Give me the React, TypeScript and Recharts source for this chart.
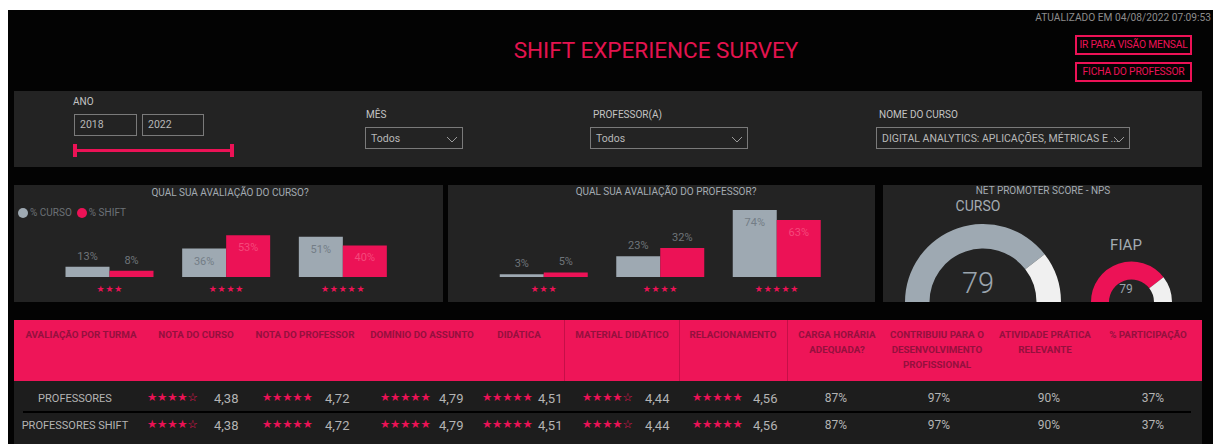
import React from 'react';
import { BarChart, Bar, XAxis, YAxis, LabelList, Legend, PieChart, Pie, Cell } from 'recharts';

const PINK = '#ec1256';
const GREY = '#9ea9b2';
const GAUGE_WHITE = '#f0f0f0';
const PANEL = '#232323';
const BODY = '#1d1d1d';
const LABEL_GREY = '#6f757a';
const FONT = 'Roboto, "Noto Sans", sans-serif';
const STAR_FONT = '"DejaVu Sans", sans-serif';

// ---- data ----
const ratingCategories = ['★★★', '★★★★', '★★★★★'];
const courseCurso = [13, 36, 51];
const courseShift = [8, 53, 40];
const professorCurso = [3, 23, 74];
const professorShift = [5, 32, 63];
const seriesNames = ['% CURSO', '% SHIFT'];
const npsNames = ['CURSO', 'FIAP'];
const npsValues = [79, 79];
const npsMax = 100;

const rowNames = ['PROFESSORES', 'PROFESSORES SHIFT'];
const notaCurso = [4.38, 4.38];
const notaProfessor = [4.72, 4.72];
const dominio = [4.79, 4.79];
const didatica = [4.51, 4.51];
const material = [4.44, 4.44];
const relacionamento = [4.56, 4.56];
const cargaHoraria = [87, 87];
const contribuiu = [97, 97];
const atividade = [90, 90];
const participacao = [37, 37];

const headerLabels = [
  ['AVALIAÇÃO POR TURMA'],
  ['NOTA DO CURSO'],
  ['NOTA DO PROFESSOR'],
  ['DOMÍNIO DO ASSUNTO'],
  ['DIDÁTICA'],
  ['MATERIAL DIDÁTICO'],
  ['RELACIONAMENTO'],
  ['CARGA HORÁRIA', 'ADEQUADA?'],
  ['CONTRIBUIU PARA O', 'DESENVOLVIMENTO', 'PROFISSIONAL'],
  ['ATIVIDADE PRÁTICA', 'RELEVANTE'],
  ['% PARTICIPAÇÃO'],
];

// ---- layout (not data) ----
const headerCenters = [81, 196, 305, 422, 519, 622, 733, 837, 937, 1045, 1148];
const starCols = [
  { values: notaCurso, starX: 147, valX: 214 },
  { values: notaProfessor, starX: 262, valX: 325 },
  { values: dominio, starX: 380, valX: 439 },
  { values: didatica, starX: 482, valX: 538 },
  { values: material, starX: 582, valX: 645 },
  { values: relacionamento, starX: 692, valX: 753 },
];
const pctCols = [
  { values: cargaHoraria, cx: 836 },
  { values: contribuiu, cx: 939 },
  { values: atividade, cx: 1049 },
  { values: participacao, cx: 1153 },
];
const rowY = [398, 425];

const courseData = ratingCategories.map((c, i) => ({ name: c, curso: courseCurso[i], shift: courseShift[i] }));
const professorData = ratingCategories.map((c, i) => ({ name: c, curso: professorCurso[i], shift: professorShift[i] }));

type TProps = {
  x: number; y: number; children: React.ReactNode; size?: number; color?: string;
  anchor?: 'left' | 'center' | 'right'; weight?: number; family?: string; style?: React.CSSProperties;
};
const T = ({ x, y, children, size = 11, color = '#bdbdbd', anchor = 'left', weight = 400, family = FONT, style }: TProps) => (
  <div
    style={{
      position: 'absolute', left: x, top: y, fontSize: size, color, fontWeight: weight, fontFamily: family,
      whiteSpace: 'nowrap', lineHeight: 1,
      transform: anchor === 'center' ? 'translate(-50%, -50%)' : anchor === 'right' ? 'translate(-100%, -50%)' : 'translate(0, -50%)',
      ...style,
    }}
  >
    {children}
  </div>
);

const Box = ({ x, y, w, h, bg, border, children }: any) => (
  <div style={{ position: 'absolute', left: x, top: y, width: w, height: h, background: bg, border, boxSizing: 'border-box' }}>
    {children}
  </div>
);

const Chevron = ({ x, y }: { x: number; y: number }) => (
  <svg style={{ position: 'absolute', left: x, top: y }} width={12} height={7}>
    <polyline points="1,1 6,6 11,1" fill="none" stroke="#9a9a9a" strokeWidth={1} />
  </svg>
);

const Dropdown = ({ x, w, text }: { x: number; w: number; text: string }) => (
  <>
    <Box x={x} y={127} w={w} h={22} border="1px solid #7a7a7a" />
    <T x={x + 6} y={139} size={10.5} color="#b8b8b8">{text}</T>
    <Chevron x={x + w - 17} y={136} />
  </>
);

const StarTick = (props: any) => {
  const { x, y, payload } = props;
  return (
    <text x={x} y={Number(y) + 15} textAnchor="middle" fill={PINK} fontSize={9} fontFamily={STAR_FONT} letterSpacing={0.8}>
      {payload.value}
    </text>
  );
};

const makeLabel = (insideColor: string) => (props: any) => {
  const { x, y, width, value } = props;
  const inside = Number(value) >= 35;
  return (
    <text
      x={Number(x) + Number(width) / 2}
      y={inside ? Number(y) + 16 : Number(y) - 7}
      textAnchor="middle"
      fill={inside ? insideColor : LABEL_GREY}
      fontSize={11}
      fontFamily={FONT}
    >
      {value}%
    </text>
  );
};

const LegendContent = () => (
  <div style={{ display: 'flex', alignItems: 'center', fontFamily: FONT, fontSize: 10, color: '#6c7176', lineHeight: 1 }}>
    <span style={{ width: 10, height: 10, borderRadius: 5, background: GREY, display: 'inline-block', marginRight: 2 }} />
    <span style={{ marginRight: 5 }}>{seriesNames[0]}</span>
    <span style={{ width: 10, height: 10, borderRadius: 5, background: PINK, display: 'inline-block', marginRight: 2 }} />
    <span>{seriesNames[1]}</span>
  </div>
);

const RatingChart = ({ data, max, left, width, marginLeft, marginRight, legend }: any) => (
  <div style={{ position: 'absolute', left, top: 185 }}>
    <BarChart
      width={width}
      height={117}
      data={data}
      margin={{ top: 25, right: marginRight, bottom: 5, left: marginLeft }}
      barGap={0}
      barSize={44}
    >
      <XAxis dataKey="name" axisLine={false} tickLine={false} tickSize={0} tickMargin={0} height={20} interval={0} tick={<StarTick />} />
      <YAxis hide domain={[0, max]} />
      {legend && (
        <Legend
          layout="horizontal"
          verticalAlign="middle"
          align="center"
          wrapperStyle={{ position: 'absolute', top: 23, left: 4, width: 'auto' }}
          content={<LegendContent />}
        />
      )}
      <Bar dataKey="curso" fill={GREY} isAnimationActive={false}>
        <LabelList dataKey="curso" content={makeLabel('#737d86')} />
      </Bar>
      <Bar dataKey="shift" fill={PINK} isAnimationActive={false}>
        <LabelList dataKey="shift" content={makeLabel('#f5487b')} />
      </Bar>
    </BarChart>
  </div>
);

const gaugeData = (v: number) => [{ v }, { v: npsMax - v }];

export default function App() {
  return (
    <div style={{ position: 'fixed', left: 0, top: 0, width: 1213, height: 444, background: '#fff', overflow: 'hidden', fontFamily: FONT }}>
      <Box x={8} y={10} w={1205} h={434} bg="#030303" />

      {/* Header */}
      <T x={656} y={50} size={22.5} color="#e3134f" anchor="center">SHIFT EXPERIENCE SURVEY</T>
      <T x={1211} y={18} size={10.2} color="#8c8c8c" anchor="right">ATUALIZADO EM 04/08/2022 07:09:53</T>
      <Box x={1075} y={35} w={117} h={20} border={`2px solid ${PINK}`} />
      <T x={1133.5} y={45} size={10.3} color={PINK} anchor="center" style={{ letterSpacing: -0.2 }}>IR PARA VISÃO MENSAL</T>
      <Box x={1075} y={62} w={117} h={20} border={`2px solid ${PINK}`} />
      <T x={1133.5} y={72} size={10.3} color={PINK} anchor="center" style={{ letterSpacing: -0.2 }}>FICHA DO PROFESSOR</T>

      {/* Filters */}
      <Box x={14} y={91} w={1188} h={76} bg={PANEL} />
      <T x={73} y={102} size={10} color="#c4c4c4">ANO</T>
      <Box x={74} y={114} w={63} h={22} border="1px solid #7a7a7a" />
      <T x={80} y={125} size={10.5} color="#b8b8b8">2018</T>
      <Box x={142} y={114} w={62} h={22} border="1px solid #7a7a7a" />
      <T x={148} y={125} size={10.5} color="#b8b8b8">2022</T>
      <Box x={75} y={149} w={157} h={3} bg={PINK} />
      <Box x={73} y={144} w={4} h={13} bg={PINK} />
      <Box x={230} y={144} w={4} h={13} bg={PINK} />

      <T x={366} y={115} size={10} color="#c4c4c4">MÊS</T>
      <Dropdown x={365} w={98} text="Todos" />
      <T x={593} y={115} size={10} color="#c4c4c4">PROFESSOR(A)</T>
      <Dropdown x={590} w={158} text="Todos" />
      <T x={879} y={115} size={10} color="#c4c4c4">NOME DO CURSO</T>
      <Dropdown x={876} w={254} text="DIGITAL ANALYTICS: APLICAÇÕES, MÉTRICAS E ..." />

      {/* Panels */}
      <Box x={14} y={185} w={429} h={117} bg={PANEL} />
      <Box x={448} y={185} w={427} h={117} bg={PANEL} />
      <Box x={883} y={185} w={319} h={117} bg={PANEL} />

      <RatingChart data={courseData} max={85} left={14} width={429} marginLeft={37.5} marginRight={41.5} legend />
      <RatingChart data={professorData} max={74} left={448} width={427} marginLeft={37.75} marginRight={39.75} />
      <T x={230} y={193} size={10} color="#a3abb2" anchor="center">QUAL SUA AVALIAÇÃO DO CURSO?</T>
      <T x={666} y={192} size={10} color="#a3abb2" anchor="center">QUAL SUA AVALIAÇÃO DO PROFESSOR?</T>

      {/* NPS */}
      <div style={{ position: 'absolute', left: 883, top: 185 }}>
        <PieChart width={319} height={117}>
          <Pie data={gaugeData(npsValues[0])} dataKey="v" cx={95} cy={112} startAngle={180} endAngle={0}
            innerRadius={53.5} outerRadius={78} stroke="none" isAnimationActive={false}>
            <Cell fill={GREY} />
            <Cell fill={GAUGE_WHITE} />
          </Pie>
          <Pie data={gaugeData(npsValues[1])} dataKey="v" cx={243.5} cy={112} startAngle={180} endAngle={0}
            innerRadius={22.5} outerRadius={40.5} stroke="none" isAnimationActive={false}>
            <Cell fill={PINK} />
            <Cell fill={GAUGE_WHITE} />
          </Pie>
        </PieChart>
      </div>
      <T x={1043} y={191} size={10} color="#a3abb2" anchor="center">NET PROMOTER SCORE - NPS</T>
      <T x={978} y={206} size={14} color="#a3abb2" anchor="center">{npsNames[0]}</T>
      <T x={978} y={283} size={29} color="#9aa4ad" anchor="center" weight={300}>{npsValues[0]}</T>
      <T x={1126} y={245} size={15} color="#a3abb2" anchor="center">{npsNames[1]}</T>
      <T x={1126} y={289} size={12} color="#9aa4ad" anchor="center">{npsValues[1]}</T>

      {/* Table */}
      <Box x={14} y={320} w={1188} h={61} bg="#ee1558" />
      {[564, 679, 787].map((x) => (
        <Box key={x} x={x} y={320} w={1} h={61} bg="#c50f48" />
      ))}
      {headerLabels.map((lines, i) => (
        <div key={i} style={{
          position: 'absolute', left: headerCenters[i], top: 327, transform: 'translateX(-50%)',
          textAlign: 'center', fontSize: 9.8, fontWeight: 700, color: '#95103e', lineHeight: '15px', whiteSpace: 'nowrap',
        }}>
          {lines.map((l, j) => <div key={j}>{l}</div>)}
        </div>
      ))}
      <Box x={14} y={381} w={1188} h={63} bg={BODY} />
      <Box x={23} y={411} w={1168} h={2} bg="#000" />
      {rowNames.map((name, r) => (
        <React.Fragment key={name}>
          <T x={75} y={rowY[r]} size={11} color="#b4b4b4" anchor="center">{name}</T>
          {starCols.map((c, k) => {
            const v = c.values[r];
            const n = Math.round(v);
            const stars = '★'.repeat(n) + '☆'.repeat(5 - n);
            return (
              <React.Fragment key={k}>
                <T x={c.starX} y={rowY[r]} size={11.5} color={PINK} family={STAR_FONT} style={{ letterSpacing: -0.2 }}>{stars}</T>
                <T x={c.valX} y={rowY[r]} size={13} color="#b4b4b4">{v.toFixed(2).replace('.', ',')}</T>
              </React.Fragment>
            );
          })}
          {pctCols.map((c, k) => (
            <T key={'p' + k} x={c.cx} y={rowY[r]} size={12} color="#b4b4b4" anchor="center">{c.values[r]}%</T>
          ))}
        </React.Fragment>
      ))}
    </div>
  );
}
